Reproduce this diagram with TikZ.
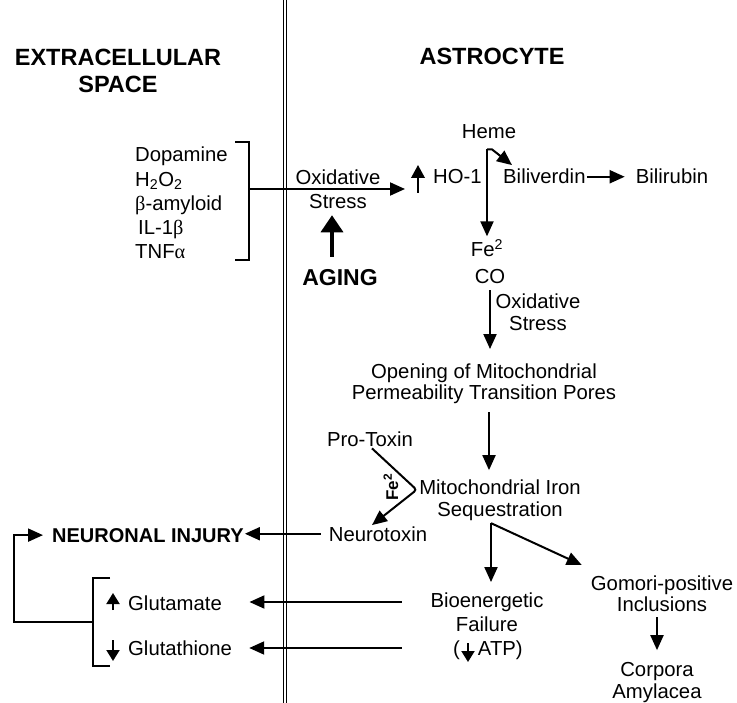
\documentclass[tikz,border=0pt]{standalone}
\usepackage{fontspec}
\setmainfont{Liberation Sans}
\newfontfamily\greekfont{Liberation Serif}
\usetikzlibrary{arrows.meta}

\newcommand{\lbfont}{\fontsize{20.3}{22}\selectfont}
\newcommand{\hdfont}{\fontsize{23.5}{26.5}\selectfont\bfseries}
\newcommand{\gk}[1]{{\greekfont #1}}

\begin{document}
\begin{tikzpicture}[
  x=1pt, y=-1pt,
  >={Triangle[length=15pt,width=13pt]},
  every node/.style={inner sep=1pt, font=\lbfont},
  multi/.style={align=center},
  hd/.style={font=\hdfont},
  arr/.style={->, line width=2pt},
  bigarr/.style={-{Triangle[length=17pt,width=22pt]}, line width=3.4pt},
  smallarr/.style={-{Triangle[length=11pt,width=13pt]}, line width=2pt},
  brk/.style={line width=2pt},
  membrane/.style={double, double distance=2.4pt, line width=1.2pt}
]
\useasboundingbox (0,0) rectangle (737,703);
\draw[membrane] (285,0) -- (285,703);

\node[hd, multi] (ext) at (118,70.8) {EXTRACELLULAR\\SPACE};
\node[hd, anchor=base] (astro) at (492,64.5) {ASTROCYTE};

% outside the cell
\node[anchor=west, align=left, font=\fontsize{20.3}{24.2}\selectfont] (stressors) at (134,203)
  {Dopamine\\H\textsubscript{2}O\textsubscript{2}\\\gk{β}-amyloid\\\hspace{3pt}IL-1\gk{β}\\TNF\gk{α}};
\coordinate (b1top) at (235,142);
\coordinate (b1mid) at (249,189);
\coordinate (b1bot) at (235,260);
\draw[brk] (b1top) -| (b1mid) |- (b1bot);

\node[multi] (oxs) at (338,189.6) {Oxidative\\[2pt]Stress};
\node[anchor=base west] (ho1) at (432,184) {HO-1};
\draw[smallarr, -{Triangle[length=13pt,width=13.5pt]}] ([xshift=-14pt,yshift=-9pt]ho1.base west) -- ++(0,-28);
\node[hd, font=\fontsize{23}{26}\selectfont\bfseries, anchor=base] (aging) at (340,285.2) {AGING};
\draw[arr, shorten >=27pt] (b1mid) -- (ho1.west |- b1mid);
\draw[bigarr, shorten <=11pt, shorten >=5pt] ([xshift=-8pt]aging.north) -- ([xshift=-8pt]aging.north |- oxs.south);

% heme pathway
\node[anchor=base] (heme) at (489,139) {Heme};
\node[anchor=base] (fe) at (487,257) {Fe\textsuperscript{2}};
\node[anchor=base] (co) at (490,284) {CO};
\node[anchor=base west] (bv) at (502,184) {Biliverdin};
\node[anchor=base] (br) at (672,184) {Bilirubin};
\coordinate (fork1) at ([yshift=-9pt]heme.south -| fe.north);
\draw[arr, shorten >=2pt] (fork1) -- (fork1 |- fe.north);
\draw[arr] (fork1) -- ++(5,0) -- ([xshift=10pt,yshift=3pt]bv.north west);
\draw[arr, shorten >=10pt] (bv) -- (br);

\node[multi] (ox2) at (538,312.6) {Oxidative\\Stress};
\node[multi] (mpt) at (484,384.2) {Opening of Mitochondrial\\[-1pt]Permeability Transition Pores};
\draw[arr, shorten <=5pt, shorten >=14pt] (co.south) -- (co.south |- mpt.north);

\node[multi] (mito) at (500,499.8) {Mitochondrial Iron\\Sequestration};
\draw[arr, shorten <=7pt, shorten >=8pt] ([xshift=5pt]mpt.south) -- ([xshift=5pt]mpt.south |- mito.north);

% toxin
\node[anchor=base] (pro) at (370,447) {Pro-Toxin};
\node[anchor=base, inner xsep=8pt] (neuro) at (378,541) {Neurotoxin};
\coordinate (vtx) at ([xshift=-1.5pt,yshift=10pt]mito.west);
\draw[arr, rounded corners=3pt] ([xshift=2pt]pro.south) -- (vtx) -- ([xshift=-6pt]neuro.north);
\node[rotate=90, font=\fontsize{17}{20}\selectfont\bfseries] (fe2) at (391,487) {Fe\textsuperscript{2}};

\node[anchor=base west, font=\fontsize{20}{23}\selectfont\bfseries] (inj) at (51,542) {NEURONAL INJURY};
\draw[arr] (neuro.west) -- (neuro.west -| inj.east);

% consequences
\node[multi] (bio) at (487,612.7) {Bioenergetic\\[2pt]Failure};
\node[anchor=base west] (atp) at (452,655) {(\hspace{18pt}ATP)};
\draw[smallarr] ([xshift=16pt,yshift=12pt]atp.base west) -- ++(0,19);
\node[multi] (gom) at (662,593.9) {Gomori-positive\\[-1.5pt]Inclusions};
\node[multi] (corp) at (657,682.3) {Corpora\\[-0.5pt]Amylacea};
\coordinate (fork2) at ([xshift=-9pt,yshift=-1.7pt]mito.south);
\draw[arr, shorten >=10pt] (fork2) -- (fork2 |- bio.north);
\draw[arr] (fork2) -- ([xshift=-8pt,yshift=10pt]gom.north west);
\draw[arr, shorten <=4.5pt, shorten >=11pt] ([xshift=-5pt]gom.south) -- ([xshift=-5pt]gom.south |- corp.north);

\node[anchor=base west] (glu) at (127,610) {Glutamate};
\node[anchor=base west] (glt) at (127,655) {Glutathione};
\draw[smallarr] ([xshift=-14pt]glu.base west) -- ++(0,-17);
\draw[smallarr] ([xshift=-14pt,yshift=15pt]glt.base west) -- ++(0,21);
\draw[arr, shorten <=27.6pt, shorten >=26.4pt] ([yshift=8pt]glu.base east -| bio.west) -- ([yshift=8pt]glu.base east);
\draw[arr, shorten <=27.6pt, shorten >=16pt] ([yshift=7pt]glt.base east -| bio.west) -- ([yshift=7pt]glt.base east);

\coordinate (b2top) at (110,578);
\coordinate (b2mid) at (93,622);
\coordinate (b2bot) at (110,666);
\draw[brk] (b2top) -| (b2mid) |- (b2bot);
\draw[arr, shorten >=8pt] (b2mid) -- ++(-79,0) |- (inj.west);
\end{tikzpicture}
\end{document}
